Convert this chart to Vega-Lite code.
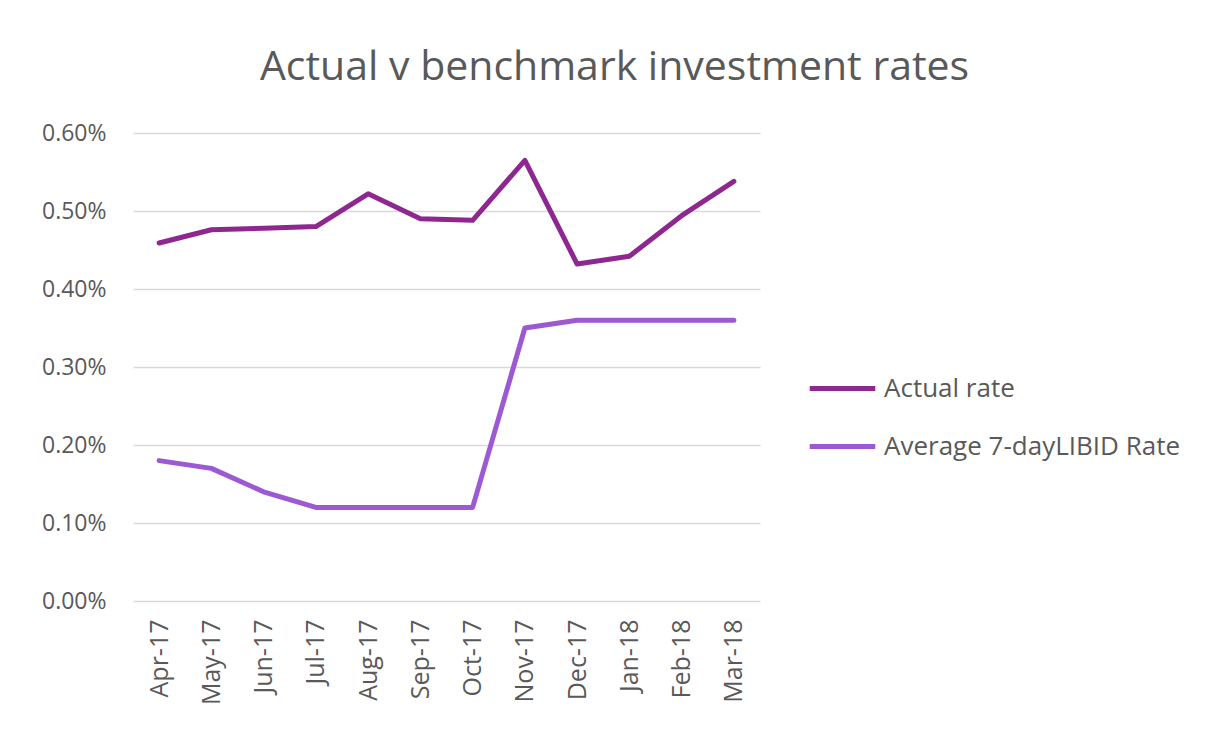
{
  "$schema": "https://vega.github.io/schema/vega-lite/v6.json",
  "width": 627,
  "height": 468,
  "autosize": "none",
  "padding": {"left": 133, "top": 133, "right": 451, "bottom": 139},
  "background": "white",
  "title": {
    "text": "Actual v benchmark investment rates",
    "font": "Open Sans",
    "fontSize": 41,
    "fontWeight": "normal",
    "color": "#595959",
    "anchor": "middle",
    "dx": 168,
    "offset": 33
  },
  "data": {
    "values": [
      {"month": "Apr-17", "series": "Actual rate", "rate": 0.00459},
      {"month": "May-17", "series": "Actual rate", "rate": 0.00476},
      {"month": "Jun-17", "series": "Actual rate", "rate": 0.00478},
      {"month": "Jul-17", "series": "Actual rate", "rate": 0.00480},
      {"month": "Aug-17", "series": "Actual rate", "rate": 0.00522},
      {"month": "Sep-17", "series": "Actual rate", "rate": 0.00490},
      {"month": "Oct-17", "series": "Actual rate", "rate": 0.00488},
      {"month": "Nov-17", "series": "Actual rate", "rate": 0.00565},
      {"month": "Dec-17", "series": "Actual rate", "rate": 0.00432},
      {"month": "Jan-18", "series": "Actual rate", "rate": 0.00442},
      {"month": "Feb-18", "series": "Actual rate", "rate": 0.00494},
      {"month": "Mar-18", "series": "Actual rate", "rate": 0.00538},
      {"month": "Apr-17", "series": "Average 7-dayLIBID Rate", "rate": 0.0018},
      {"month": "May-17", "series": "Average 7-dayLIBID Rate", "rate": 0.0017},
      {"month": "Jun-17", "series": "Average 7-dayLIBID Rate", "rate": 0.0014},
      {"month": "Jul-17", "series": "Average 7-dayLIBID Rate", "rate": 0.0012},
      {"month": "Aug-17", "series": "Average 7-dayLIBID Rate", "rate": 0.0012},
      {"month": "Sep-17", "series": "Average 7-dayLIBID Rate", "rate": 0.0012},
      {"month": "Oct-17", "series": "Average 7-dayLIBID Rate", "rate": 0.0012},
      {"month": "Nov-17", "series": "Average 7-dayLIBID Rate", "rate": 0.0035},
      {"month": "Dec-17", "series": "Average 7-dayLIBID Rate", "rate": 0.0036},
      {"month": "Jan-18", "series": "Average 7-dayLIBID Rate", "rate": 0.0036},
      {"month": "Feb-18", "series": "Average 7-dayLIBID Rate", "rate": 0.0036},
      {"month": "Mar-18", "series": "Average 7-dayLIBID Rate", "rate": 0.0036}
    ]
  },
  "mark": {"type": "line", "strokeWidth": 5, "strokeCap": "round", "strokeJoin": "round"},
  "encoding": {
    "x": {
      "field": "month",
      "type": "ordinal",
      "sort": null,
      "scale": {"type": "point", "padding": 0.5},
      "axis": {
        "title": null,
        "labelAngle": -90,
        "labelFont": "Open Sans",
        "labelFontSize": 25,
        "labelColor": "#595959",
        "labelPadding": 18,
        "ticks": false,
        "domain": false,
        "grid": false
      }
    },
    "y": {
      "field": "rate",
      "type": "quantitative",
      "scale": {"domain": [0, 0.006], "nice": false},
      "axis": {
        "title": null,
        "format": ".2%",
        "values": [0, 0.001, 0.002, 0.003, 0.004, 0.005, 0.006],
        "labelFont": "Open Sans",
        "labelFontSize": 23,
        "labelColor": "#595959",
        "labelPadding": 27,
        "ticks": false,
        "domain": false,
        "grid": true,
        "gridColor": "#D9D9D9",
        "gridWidth": 1.5
      }
    },
    "color": {
      "field": "series",
      "type": "nominal",
      "scale": {
        "domain": ["Actual rate", "Average 7-dayLIBID Rate"],
        "range": ["#8E2790", "#9C59D3"]
      },
      "legend": {
        "title": null,
        "orient": "none",
        "legendX": 674,
        "legendY": 220,
        "symbolType": "stroke",
        "symbolSize": 4300,
        "symbolStrokeWidth": 5,
        "labelFont": "Open Sans",
        "labelFontSize": 26,
        "labelColor": "#595959",
        "labelOffset": 6,
        "rowPadding": 9,
        "labelLimit": 400
      }
    }
  },
  "config": {
    "view": {"stroke": null}
  }
}
